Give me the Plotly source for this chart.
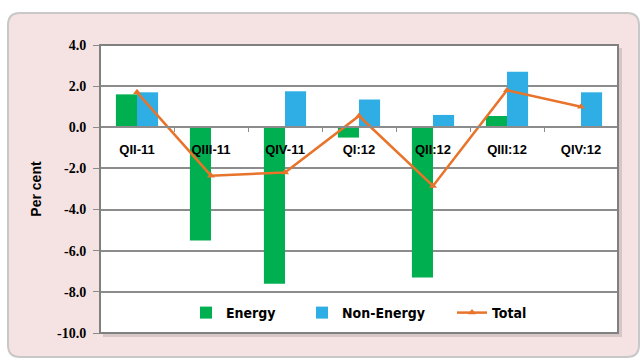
import plotly.graph_objects as go

# Quarterly growth contributions (per cent)
quarters = ["QII-11", "QIII-11", "QIV-11", "QI:12", "QII:12", "QIII:12", "QIV:12"]
energy = [1.6, -5.5, -7.6, -0.5, -7.3, 0.55, 0.0]
non_energy = [1.7, 0.0, 1.75, 1.35, 0.6, 2.7, 1.7]
total = [1.7, -2.35, -2.2, 0.55, -2.85, 1.8, 1.0]
y_ticks = [4, 2, 0, -2, -4, -6, -8, -10]

W, H = 640, 360
ML, MR, MT, MB = 100, 22, 45, 27
PW, PH = W - ML - MR, H - MT - MB
Y_MIN, Y_MAX = -10, 4


def px_x(p):
    return (p - ML) / PW


def px_y(p):
    return (H - MB - p) / PH


GREEN = "#00b050"
BLUE = "#2eaee4"
ORANGE = "#e8732a"
GRID = "#8c8c8c"

fig = go.Figure()
fig.add_trace(go.Bar(x=quarters, y=energy, name="Energy", marker_color=GREEN,
                     marker_line_width=0, legend="legend"))
fig.add_trace(go.Bar(x=quarters, y=non_energy, name="Non-Energy", marker_color=BLUE,
                     marker_line_width=0, legend="legend2"))
fig.add_trace(go.Scatter(x=quarters, y=total, name="Total", mode="lines+markers",
                         line=dict(color=ORANGE, width=2.5),
                         marker=dict(symbol="triangle-up", size=7, color=ORANGE),
                         legend="legend3"))


def rounded_path(x0, y0, x1, y1, r):
    # rounded rectangle given in pixels, emitted in paper coordinates
    pts = [
        ("M", [(x0 + r, y0)]),
        ("L", [(x1 - r, y0)]),
        ("Q", [(x1, y0), (x1, y0 + r)]),
        ("L", [(x1, y1 - r)]),
        ("Q", [(x1, y1), (x1 - r, y1)]),
        ("L", [(x0 + r, y1)]),
        ("Q", [(x0, y1), (x0, y1 - r)]),
        ("L", [(x0, y0 + r)]),
        ("Q", [(x0, y0), (x0 + r, y0)]),
    ]
    s = ""
    for cmd, ps in pts:
        s += cmd + " " + " ".join(f"{px_x(a):.5f},{px_y(b):.5f}" for a, b in ps) + " "
    return s + "Z"


shapes = [
    # pink panel
    dict(type="path", xref="paper", yref="paper", layer="below",
         path=rounded_path(8, 13, 639, 357, 12),
         fillcolor="#f5e2e2", line=dict(color="#c8c8c8", width=2)),
    # plot area drop shadow
    dict(type="rect", xref="paper", yref="paper", layer="below",
         x0=px_x(103), x1=px_x(622), y0=px_y(337), y1=px_y(48),
         fillcolor="rgba(0,0,0,0.12)", line=dict(width=0)),
    # plot area
    dict(type="rect", xref="paper", yref="paper", layer="below",
         x0=0, x1=1, y0=0, y1=1, fillcolor="white", line=dict(width=0)),
    # plot area border
    dict(type="rect", xref="paper", yref="paper", layer="above",
         x0=0, x1=1, y0=0, y1=1, line=dict(color="#808080", width=2)),
]

legend_font = dict(family="DejaVu Sans Condensed", size=14, color="black", weight="bold")
leg_y = px_y(313)


def leg(xpx):
    return dict(x=px_x(xpx), y=leg_y, xanchor="left", yanchor="middle",
                bgcolor="rgba(0,0,0,0)", font=legend_font, orientation="h",
                itemwidth=30, tracegroupgap=0)


fig.update_layout(
    width=W, height=H,
    margin=dict(l=ML, r=MR, t=MT, b=MB),
    paper_bgcolor="white",
    plot_bgcolor="rgba(0,0,0,0)",
    barmode="group",
    bargap=0.43,
    bargroupgap=0,
    shapes=shapes,
    showlegend=True,
    legend=leg(186),
    legend2=leg(302),
    legend3=leg(452),
    xaxis=dict(
        type="category",
        categoryorder="array", categoryarray=quarters,
        anchor="free", position=(0 - Y_MIN) / (Y_MAX - Y_MIN),
        showline=True, linecolor=GRID, linewidth=2,
        showgrid=False, zeroline=False,
        ticks="outside", tickson="boundaries", ticklen=4, tickcolor=GRID,
        ticklabelstandoff=10,
        tickfont=dict(family="Liberation Sans, Arial, sans-serif", size=13, color="black",
                      weight="bold"),
    ),
    yaxis=dict(
        range=[Y_MIN, Y_MAX],
        tickvals=y_ticks,
        ticktext=[f"{v:.1f}" for v in y_ticks],
        showgrid=True, gridcolor=GRID, gridwidth=1.5,
        zeroline=False, showline=False,
        ticks="outside", ticklen=6, tickcolor=GRID,
        ticklabelstandoff=4,
        tickfont=dict(family="Times New Roman, Liberation Serif, DejaVu Serif, serif",
                      size=14, color="black", weight="bold"),
        title=dict(text="Per cent", standoff=12,
                   font=dict(family="Liberation Sans, Arial, sans-serif", size=14,
                             color="black", weight="bold")),
    ),
)

fig.write_html("out.html")
